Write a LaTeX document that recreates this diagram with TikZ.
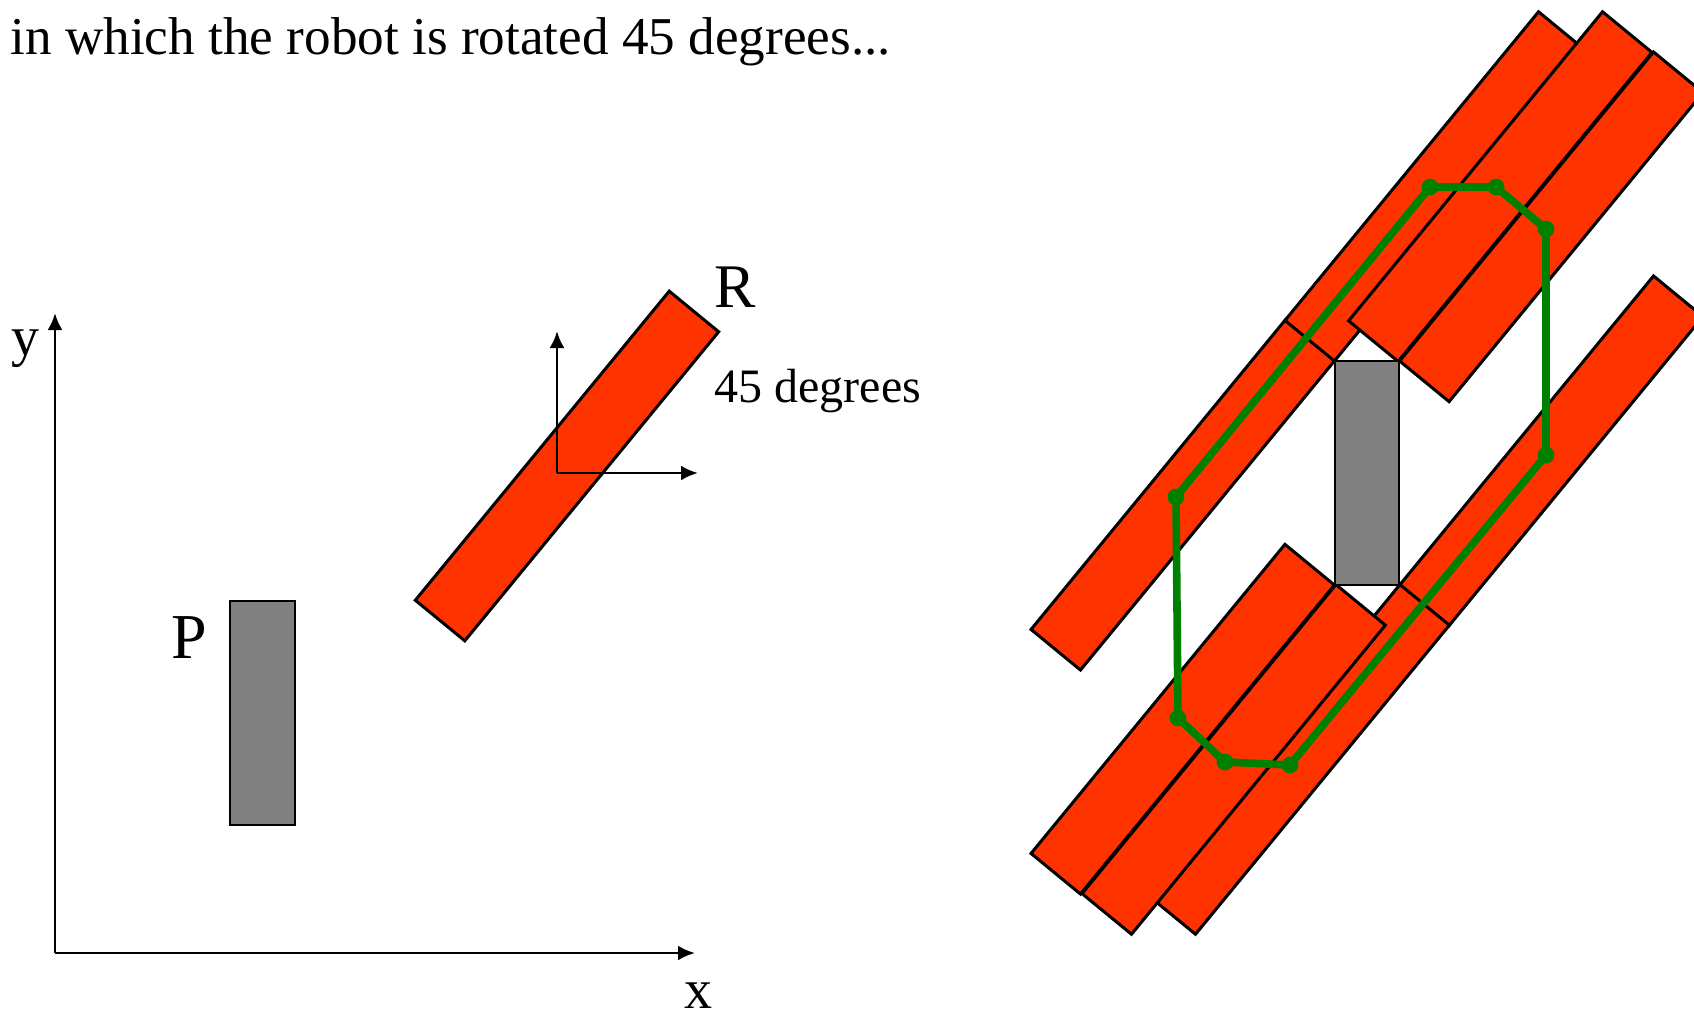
\documentclass[tikz,border=0pt]{standalone}
\usepackage{fontspec}
\setmainfont{Liberation Serif}
\usetikzlibrary{arrows.meta,positioning}
\definecolor{robotred}{HTML}{FF3300}
\definecolor{obstgray}{HTML}{808080}
\definecolor{cgreen}{HTML}{008000}
\tikzset{>={Latex[length=8.5pt,width=7.5pt]}}
\tikzset{
  robot/.style={fill=robotred, draw=black, line width=1.5pt, line join=miter},
  obstacle/.style={fill=obstgray, draw=black, line width=1.3pt},
  axis/.style={->, line width=1.4pt},
  cpath/.style={draw=cgreen, line width=3.8pt, line join=round},
  lbl/.style={inner sep=0pt, anchor=base west},
}

\begin{document}
\begin{tikzpicture}[x=0.5pt, y=-0.5pt]
  \useasboundingbox (0,0) rectangle (1694,1018);
  \clip (0,0) rectangle (1694,1018);

  % caption
  \node[lbl, font=\fontsize{26.6}{32}\selectfont] (caption) at (10,54)
    {in which the robot is rotated 45 degrees...};

  % workspace axes
  \coordinate (origin) at (55,953);
  \coordinate (xtip) at (695,953);
  \coordinate (ytip) at (55,313);
  \draw[axis] (origin) -- (xtip);
  \draw[axis] (origin) -- (ytip);
  \node[lbl, font=\fontsize{28}{32}\selectfont] (ylabel) at (11,355) {y};
  \node[lbl, font=\fontsize{28}{32}\selectfont] (xlabel) at (684,1008) {x};

  % obstacle P
  \draw[obstacle] (230,601) rectangle (295,825);
  \node[lbl, font=\fontsize{32}{36}\selectfont] (plabel) at (171,658) {P};

  % robot R, turned
  \draw[robot, shift={(567,466)}, rotate=50.6]
    (-200,-32) -- (200,-32) -- (200,32) -- (-200,32) -- cycle;
  \coordinate (frame) at (557,473);
  \coordinate (frameup) at (557,331);
  \coordinate (frameright) at (698,473);
  \draw[axis] (frame) -- (frameup);
  \draw[axis] (frame) -- (frameright);
  \node[lbl, font=\fontsize{31}{36}\selectfont] (rlabel) at (714,307) {R};
  \node[lbl, font=\fontsize{24}{28}\selectfont] (deglabel) at (714,402) {45 degrees};

  % robot slid round the obstacle
  \foreach \cx/\cy in {1436.3/186.6, 1500.3/186.6, 1551.3/226.8, 1551.3/450.8,
                       1297.7/759.4, 1233.7/759.4, 1182.7/719.2, 1182.7/495.2}
    \draw[robot, shift={(\cx,\cy)}, rotate=50.6]
      (-200,-32) -- (200,-32) -- (200,32) -- (-200,32) -- cycle;
  \draw[obstacle] (1335,361) rectangle (1399,585);

  % configuration space obstacle
  \coordinate (g1) at (1430,187);
  \coordinate (g2) at (1496,187);
  \coordinate (g3) at (1546,229);
  \coordinate (g4) at (1546,455);
  \coordinate (g5) at (1290,765);
  \coordinate (g6) at (1225,762);
  \coordinate (g7) at (1178,718);
  \coordinate (g8) at (1176,497);
  \draw[cpath] (g1) -- (g2) -- (g3) -- (g4) -- (g5) -- (g6) -- (g7) -- (g8) -- cycle;
  \foreach \g in {1,...,8}
    \fill[cgreen] (g\g) circle (4.2pt);
\end{tikzpicture}
\end{document}
